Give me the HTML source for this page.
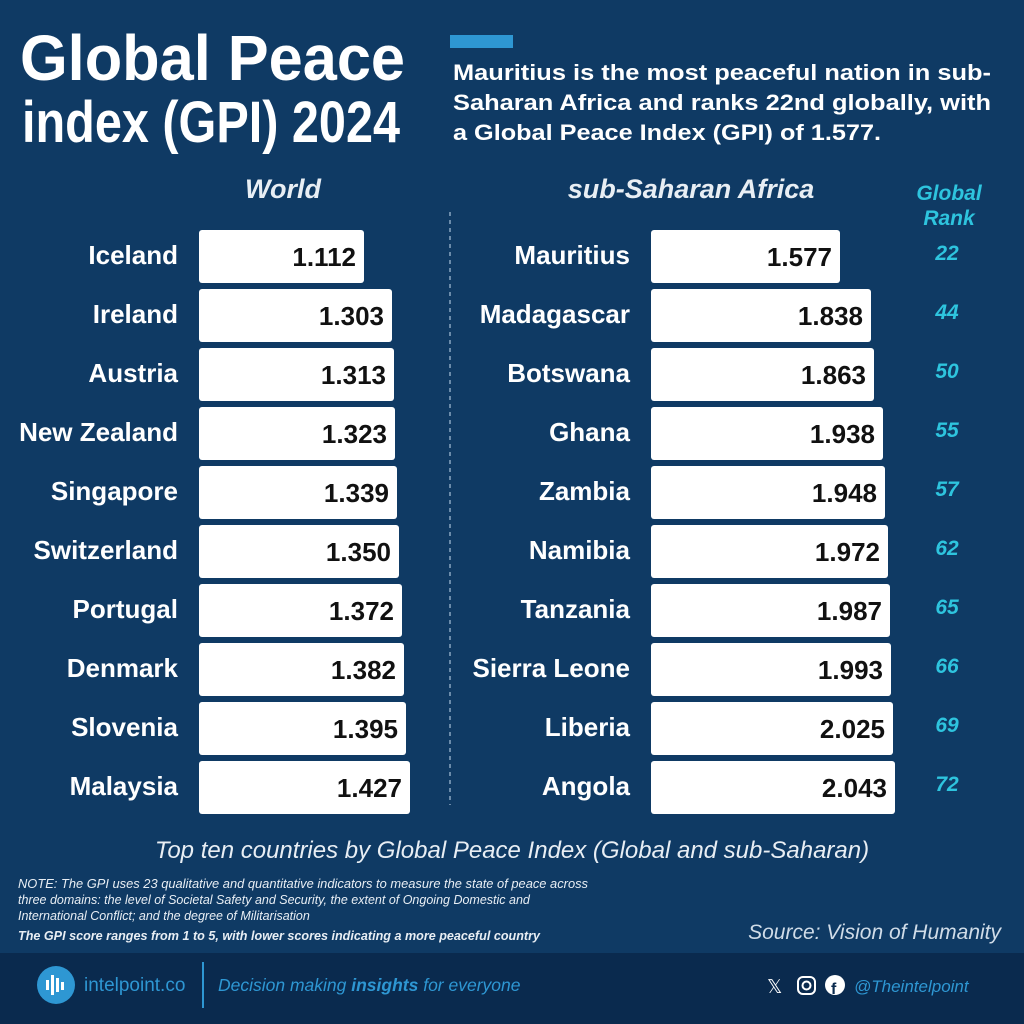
<!DOCTYPE html>
<html><head><meta charset="utf-8"><style>
html,body{margin:0;padding:0;background:#0f3a64;}
svg{display:block;font-family:"Liberation Sans",Arial,sans-serif;}
</style></head><body>
<svg width="1024" height="1024" viewBox="0 0 1024 1024" xmlns="http://www.w3.org/2000/svg">
<rect width="1024" height="1024" fill="#0f3a64"/>
<rect y="953" width="1024" height="71" fill="#0a2a4e"/>
<text x="20" y="80" font-size="64" font-weight="bold" fill="#fff" textLength="385" lengthAdjust="spacingAndGlyphs">Global Peace</text>
<text x="22" y="142" font-size="58" fill="#fff" font-weight="bold" textLength="378" lengthAdjust="spacingAndGlyphs">index (GPI) 2024</text>
<rect x="450" y="35" width="63" height="13" fill="#2e97d3"/>
<g font-size="22.5" font-weight="bold" fill="#fff">
<text x="453" y="80" textLength="538" lengthAdjust="spacingAndGlyphs">Mauritius is the most peaceful nation in sub-</text>
<text x="453" y="110" textLength="538" lengthAdjust="spacingAndGlyphs">Saharan Africa and ranks 22nd globally, with</text>
<text x="453" y="140" textLength="428" lengthAdjust="spacingAndGlyphs">a Global Peace Index (GPI) of 1.577.</text>
</g>
<text x="283" y="198" font-size="27" font-style="italic" font-weight="bold" fill="#e8eef4" text-anchor="middle">World</text>
<text x="691" y="198" font-size="27" font-style="italic" font-weight="bold" fill="#e8eef4" text-anchor="middle">sub-Saharan Africa</text>
<text x="949" y="200" font-size="21" font-style="italic" font-weight="bold" fill="#2ec4de" text-anchor="middle">Global</text>
<text x="949" y="225" font-size="21" font-style="italic" font-weight="bold" fill="#2ec4de" text-anchor="middle">Rank</text>
<line x1="450" y1="212" x2="450" y2="805" stroke="#8aa6c2" stroke-width="1.5" stroke-dasharray="4,4"/>
<g font-weight="bold">
<g fill="#fff">
<rect x="199" y="230" width="165" height="53" rx="3"/>
<rect x="199" y="289" width="193" height="53" rx="3"/>
<rect x="199" y="348" width="195" height="53" rx="3"/>
<rect x="199" y="407" width="196" height="53" rx="3"/>
<rect x="199" y="466" width="198" height="53" rx="3"/>
<rect x="199" y="525" width="200" height="53" rx="3"/>
<rect x="199" y="584" width="203" height="53" rx="3"/>
<rect x="199" y="643" width="205" height="53" rx="3"/>
<rect x="199" y="702" width="207" height="53" rx="3"/>
<rect x="199" y="761" width="211" height="53" rx="3"/>
<rect x="651" y="230" width="189" height="53" rx="3"/>
<rect x="651" y="289" width="220" height="53" rx="3"/>
<rect x="651" y="348" width="223" height="53" rx="3"/>
<rect x="651" y="407" width="232" height="53" rx="3"/>
<rect x="651" y="466" width="234" height="53" rx="3"/>
<rect x="651" y="525" width="237" height="53" rx="3"/>
<rect x="651" y="584" width="239" height="53" rx="3"/>
<rect x="651" y="643" width="240" height="53" rx="3"/>
<rect x="651" y="702" width="242" height="53" rx="3"/>
<rect x="651" y="761" width="244" height="53" rx="3"/>
</g>
<g fill="#111" text-anchor="end" font-size="26">
<text x="356" y="266">1.112</text>
<text x="384" y="325">1.303</text>
<text x="386" y="384">1.313</text>
<text x="387" y="443">1.323</text>
<text x="389" y="502">1.339</text>
<text x="391" y="561">1.350</text>
<text x="394" y="620">1.372</text>
<text x="396" y="679">1.382</text>
<text x="398" y="738">1.395</text>
<text x="402" y="797">1.427</text>
<text x="832" y="266">1.577</text>
<text x="863" y="325">1.838</text>
<text x="866" y="384">1.863</text>
<text x="875" y="443">1.938</text>
<text x="877" y="502">1.948</text>
<text x="880" y="561">1.972</text>
<text x="882" y="620">1.987</text>
<text x="883" y="679">1.993</text>
<text x="885" y="738">2.025</text>
<text x="887" y="797">2.043</text>
</g>
<g fill="#fff" text-anchor="end" font-size="26">
<text x="178" y="264">Iceland</text>
<text x="178" y="323">Ireland</text>
<text x="178" y="382">Austria</text>
<text x="178" y="441">New Zealand</text>
<text x="178" y="500">Singapore</text>
<text x="178" y="559">Switzerland</text>
<text x="178" y="618">Portugal</text>
<text x="178" y="677">Denmark</text>
<text x="178" y="736">Slovenia</text>
<text x="178" y="795">Malaysia</text>
<text x="630" y="264">Mauritius</text>
<text x="630" y="323">Madagascar</text>
<text x="630" y="382">Botswana</text>
<text x="630" y="441">Ghana</text>
<text x="630" y="500">Zambia</text>
<text x="630" y="559">Namibia</text>
<text x="630" y="618">Tanzania</text>
<text x="630" y="677">Sierra Leone</text>
<text x="630" y="736">Liberia</text>
<text x="630" y="795">Angola</text>
</g>
<g fill="#2ec4de" font-size="21" font-style="italic" text-anchor="middle">
<text x="947" y="260">22</text>
<text x="947" y="319">44</text>
<text x="947" y="378">50</text>
<text x="947" y="437">55</text>
<text x="947" y="496">57</text>
<text x="947" y="555">62</text>
<text x="947" y="614">65</text>
<text x="947" y="673">66</text>
<text x="947" y="732">69</text>
<text x="947" y="791">72</text>
</g>
</g>
<text x="512" y="858" font-size="24" font-style="italic" fill="#e8eef4" text-anchor="middle">Top ten countries by Global Peace Index (Global and sub-Saharan)</text>
<g font-size="12.5" font-style="italic" fill="#e8eef4">
<text x="18" y="888" textLength="570" lengthAdjust="spacingAndGlyphs">NOTE: The GPI uses 23 qualitative and quantitative indicators to measure the state of peace across</text>
<text x="18" y="904">three domains: the level of Societal Safety and Security, the extent of Ongoing Domestic and</text>
<text x="18" y="920">International Conflict; and the degree of Militarisation</text>
<text x="18" y="940" font-weight="bold" textLength="522" lengthAdjust="spacingAndGlyphs">The GPI score ranges from 1 to 5, with lower scores indicating a more peaceful country</text>
</g>
<text x="1001" y="939" font-size="21" font-style="italic" fill="#d0dce8" text-anchor="end">Source: Vision of Humanity</text>
<circle cx="56" cy="985" r="19" fill="#2e97d3"/>
<g fill="#fff"><rect x="46" y="980" width="3" height="10"/><rect x="51" y="975" width="3" height="20"/><rect x="56" y="978" width="3" height="14"/><rect x="61" y="982" width="3" height="8"/></g>
<text x="84" y="991" font-size="19" fill="#2e97d3">intelpoint.co</text>
<rect x="202" y="962" width="2" height="46" fill="#2e97d3"/>
<text x="218" y="991" font-size="17.5" font-style="italic" fill="#2e97d3">Decision making <tspan font-weight="bold">insights</tspan> for everyone</text>
<text x="767" y="993" font-size="19" fill="#fff">𝕏</text>
<rect x="798" y="977" width="17" height="17" rx="5" fill="none" stroke="#fff" stroke-width="2"/>
<circle cx="806.5" cy="985.5" r="4" fill="none" stroke="#fff" stroke-width="2"/>
<circle cx="835" cy="985" r="10" fill="#fff"/>
<text x="831" y="994" font-size="16" font-weight="bold" fill="#0a2a4e">f</text>
<text x="854" y="992" font-size="17" font-style="italic" fill="#2e97d3">@Theintelpoint</text>
</svg>
</body></html>
